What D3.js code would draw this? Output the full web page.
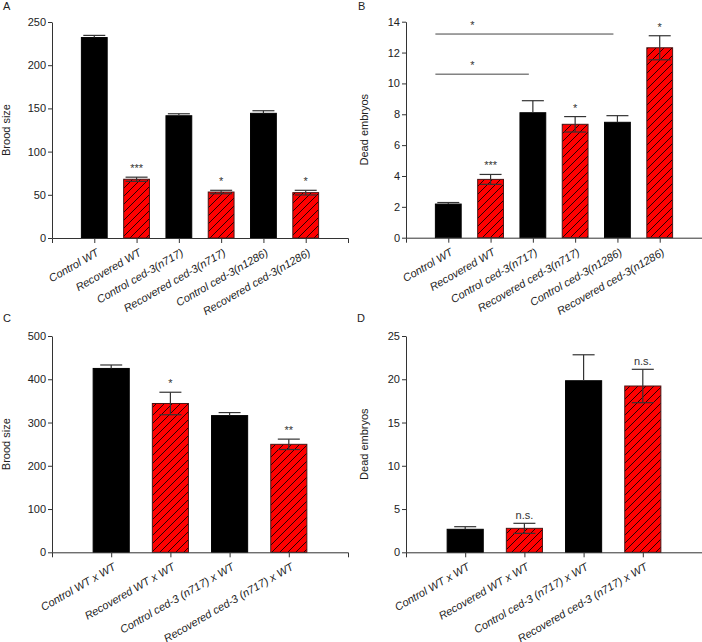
<!DOCTYPE html>
<html>
<head>
<meta charset="utf-8">
<script src="https://cdn.jsdelivr.net/npm/d3@7"></script>
<style>
  body { margin: 0; background: #fff; }
  text { font-family: "Liberation Sans", Arial, sans-serif; }
</style>
</head>
<body>
<div id="chart"></div>
<script>
// ---- data ----
var namesAB = ["Control WT", "Recovered WT", "Control ced-3(n717)", "Recovered ced-3(n717)", "Control ced-3(n1286)", "Recovered ced-3(n1286)"];
var broodA = [232, 68, 141.5, 53.2, 144.3, 52.5];
var broodAErr = [2.5, 2.4, 2.3, 2, 3, 2.7];
var broodASig = ["", "***", "", "*", "", "*"];
var broodATicks = [0, 50, 100, 150, 200, 250];

var deadB = [2.18, 3.78, 8.1, 7.35, 7.48, 12.31];
var deadBErr = [0.1, 0.32, 0.78, 0.5, 0.43, 0.78];
var deadBSig = ["", "***", "", "*", "", "*"];
var deadBTicks = [0, 2, 4, 6, 8, 10, 12, 14];
// comparisons drawn as lines above panel B (bar index from, bar index to, level)
var bracketsB = [{from: 0, to: 4, level: 13.2}, {from: 0, to: 2, level: 10.6}];

var namesCD = ["Control WT x WT", "Recovered WT x WT", "Control ced-3 (n717) x WT", "Recovered ced-3 (n717) x WT"];
var broodC = [425, 344, 316, 249.6];
var broodCErr = [8, 26, 7, 12];
var broodCSig = ["", "*", "", "**"];
var broodCTicks = [0, 100, 200, 300, 400, 500];

var deadD = [2.66, 2.77, 19.83, 19.22];
var deadDErr = [0.3, 0.58, 3.0, 1.93];
var deadDSig = ["", "n.s.", "", "n.s."];
var deadDTicks = [0, 5, 10, 15, 20, 25];

var width = 702, height = 642;

var svg = d3.select("#chart")
            .append("svg")
            .attr("width", width)
            .attr("height", height);

// hatch for the "Recovered" bars
svg.append("defs")
   .append("pattern")
   .attr("id", "hatch")
   .attr("patternUnits", "userSpaceOnUse")
   .attr("width", 8)
   .attr("height", 8)
   .call(function (p) {
     p.append("rect").attr("width", 8).attr("height", 8).attr("fill", "#ff0000");
     p.append("path")
      .attr("d", "M0,8 L8,0 M-2,2 L2,-2 M6,10 L10,6")
      .attr("stroke", "#2a0000")
      .attr("stroke-width", 1);
   });

function drawPanel(p) {
  var g = svg.append("g");

  var x = d3.scalePoint()
            .domain(p.names)
            .range([p.left, p.right])
            .padding(1);

  var y = d3.scaleLinear()
            .domain([0, p.ticks[p.ticks.length - 1]])
            .range([p.bottom, p.top]);

  var bw = x.step() * 0.61;
  var rows = p.names.map(function (n, i) {
    return {name: n, v: p.values[i], e: p.errors[i], sig: p.sig[i], rec: /^Recovered/.test(n)};
  });

  // bars
  g.selectAll(".bar")
   .data(rows)
   .enter()
   .append("rect")
     .attr("class", "bar")
     .attr("x", function (d) { return x(d.name) - bw / 2; })
     .attr("y", function (d) { return y(d.v); })
     .attr("width", bw)
     .attr("height", function (d) { return y(0) - y(d.v); })
     .attr("fill", function (d) { return d.rec ? "url(#hatch)" : "#000"; })
     .attr("stroke", function (d) { return d.rec ? "#4a1515" : "#000"; })
     .attr("stroke-width", 1);

  // error bars (the lower half disappears into the black bars)
  var eb = g.selectAll(".err")
            .data(rows)
            .enter()
            .append("g")
            .attr("class", "err")
            .attr("stroke", "#333")
            .attr("stroke-width", 1.2);

  eb.append("line")
    .attr("x1", function (d) { return x(d.name); })
    .attr("x2", function (d) { return x(d.name); })
    .attr("y1", function (d) { return d.rec ? y(d.v - d.e) : y(d.v); })
    .attr("y2", function (d) { return y(d.v + d.e); });
  eb.append("line")
    .attr("x1", function (d) { return x(d.name) - 11; })
    .attr("x2", function (d) { return x(d.name) + 11; })
    .attr("y1", function (d) { return y(d.v + d.e); })
    .attr("y2", function (d) { return y(d.v + d.e); });
  eb.filter(function (d) { return d.rec; })
    .append("line")
    .attr("x1", function (d) { return x(d.name) - 11; })
    .attr("x2", function (d) { return x(d.name) + 11; })
    .attr("y1", function (d) { return y(d.v - d.e); })
    .attr("y2", function (d) { return y(d.v - d.e); });

  // significance marks
  g.selectAll(".sig")
   .data(rows.filter(function (d) { return d.sig; }))
   .enter()
   .append("text")
     .attr("class", "sig")
     .attr("text-anchor", "middle")
     .attr("x", function (d) { return x(d.name); })
     .attr("y", function (d) { return y(d.v + d.e) - (d.sig == "n.s." ? 4 : 5); })
     .attr("font-size", 11)
     .attr("fill", "#333")
     .text(function (d) { return d.sig; });

  (p.brackets || []).forEach(function (b) {
    var x0 = x(p.names[b.from]) - bw / 2;
    var x1 = x(p.names[b.to]) - 4;
    g.append("line")
     .attr("x1", x0).attr("x2", x1)
     .attr("y1", y(b.level)).attr("y2", y(b.level))
     .attr("stroke", "#444")
     .attr("stroke-width", 1);
    g.append("text")
     .attr("text-anchor", "middle")
     .attr("x", (x(p.names[0]) + x(p.names[1])) / 2 + 3)
     .attr("y", y(b.level) - 5)
     .attr("font-size", 11)
     .attr("fill", "#333")
     .text("*");
  });

  // axes
  var yAxis = g.append("g")
               .attr("transform", "translate(" + p.left + ",0)")
               .call(d3.axisLeft(y).tickValues(p.ticks).tickSize(4).tickPadding(2).tickSizeOuter(0));

  var xAxis = g.append("g")
               .attr("transform", "translate(0," + p.bottom + ")")
               .call(d3.axisBottom(x).tickSize(5).tickSizeOuter(5));

  [yAxis, xAxis].forEach(function (a) {
    a.selectAll("path, line").attr("stroke", "#333");
    a.selectAll("text")
     .attr("fill", "#222")
     .style("font-family", "'Liberation Sans', Arial, sans-serif")
     .style("font-size", "11px");
  });

  xAxis.selectAll("text")
       .attr("y", 0)
       .attr("x", 0)
       .attr("dy", "0.71em")
       .attr("text-anchor", "end")
       .style("font-style", "italic")
       .attr("transform", "translate(1,10) rotate(-30)");

  // axis title
  g.append("text")
   .attr("text-anchor", "middle")
   .attr("transform", "translate(" + (p.left - p.titleOffset) + "," + ((p.top + p.bottom) / 2) + ") rotate(-90)")
   .attr("font-size", 11)
   .attr("fill", "#222")
   .text(p.title);

  // panel letter
  g.append("text")
   .attr("x", p.letterX)
   .attr("y", p.letterY)
   .attr("font-size", 11)
   .attr("fill", "#222")
   .text(p.letter);
}

drawPanel({letter: "A", letterX: 3, letterY: 10, title: "Brood size", titleOffset: 42,
           names: namesAB, values: broodA, errors: broodAErr, sig: broodASig, ticks: broodATicks,
           left: 52, right: 348, top: 22, bottom: 238});

drawPanel({letter: "B", letterX: 358, letterY: 10, title: "Dead embryos", titleOffset: 38,
           names: namesAB, values: deadB, errors: deadBErr, sig: deadBSig, ticks: deadBTicks,
           brackets: bracketsB,
           left: 406, right: 702, top: 21.7, bottom: 237.7});

drawPanel({letter: "C", letterX: 3, letterY: 322, title: "Brood size", titleOffset: 42,
           names: namesCD, values: broodC, errors: broodCErr, sig: broodCSig, ticks: broodCTicks,
           left: 52, right: 348, top: 336, bottom: 552.3});

drawPanel({letter: "D", letterX: 357, letterY: 322, title: "Dead embryos", titleOffset: 38,
           names: namesCD, values: deadD, errors: deadDErr, sig: deadDSig, ticks: deadDTicks,
           left: 406, right: 702, top: 336, bottom: 552.3});
</script>
</body>
</html>
